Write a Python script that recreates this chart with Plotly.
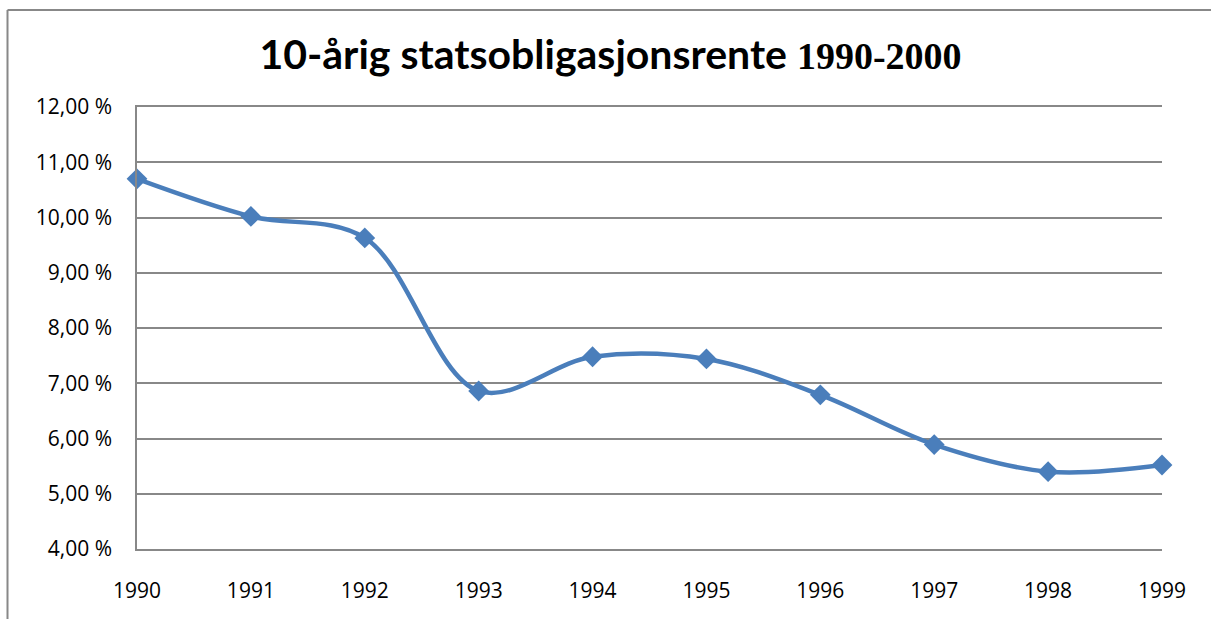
import plotly.graph_objects as go

years = [1990, 1991, 1992, 1993, 1994, 1995, 1996, 1997, 1998, 1999]
rente = [10.70, 10.02, 9.63, 6.86, 7.48, 7.44, 6.79, 5.89, 5.40, 5.52]
y_ticks = [4, 5, 6, 7, 8, 9, 10, 11, 12]
y_labels = ["4,00 %", "5,00 %", "6,00 %", "7,00 %", "8,00 %", "9,00 %", "10,00 %", "11,00 %", "12,00 %"]
x_labels = [str(y) for y in years]

W, H = 1211, 619
L, R, T, B = 137, 49, 107, 70
pw, ph = W - L - R, H - T - B

fig = go.Figure()
fig.add_trace(go.Scatter(
    x=years, y=rente, mode="lines+markers",
    line=dict(color="#4A7EBB", width=4.5, shape="spline", smoothing=1.0),
    marker=dict(symbol="diamond", size=16, color="#4A7EBB"),
    cliponaxis=False, showlegend=False,
))

def px_x(p):
    return (p - L) / pw

def px_y(p):
    return (H - B - p) / ph

gray = "#888888"
fig.add_shape(type="line", xref="paper", yref="paper",
              x0=px_x(7.5), x1=px_x(1212), y0=px_y(10), y1=px_y(10),
              line=dict(color=gray, width=2))
fig.add_shape(type="line", xref="paper", yref="paper",
              x0=px_x(7.5), x1=px_x(7.5), y0=px_y(10), y1=px_y(620),
              line=dict(color=gray, width=2))

fig.update_layout(
    width=W, height=H,
    margin=dict(l=L, r=R, t=T, b=B, autoexpand=False),
    paper_bgcolor="white", plot_bgcolor="white",
    font=dict(family="Open Sans, Liberation Sans, sans-serif", size=21, color="black"),
    title=dict(
        text='<b>10-årig statsobligasjonsrente </b><span style="font-family:\'Liberation Serif\',serif;font-size:38px;font-weight:bold">1990-2000</span>',
        x=(263 + 958) / 2 / W, xanchor="center", y=1 - 55 / H, yanchor="middle",
        font=dict(family="Lato, Open Sans, sans-serif", size=41, color="black"),
    ),
    xaxis=dict(
        range=[1990, 1999], tickvals=years, ticktext=x_labels,
        showgrid=False, zeroline=False, showline=True, mirror=True,
        linecolor=gray, linewidth=1.5, automargin=False,
        ticks="", ticklabelstandoff=22,
    ),
    yaxis=dict(
        range=[4, 12], tickvals=y_ticks, ticktext=y_labels,
        showgrid=True, gridcolor=gray, gridwidth=1.5,
        zeroline=False, showline=True, linecolor=gray, linewidth=1.5,
        automargin=False, ticks="", ticklabelstandoff=19,
    ),
)

fig.write_html("out.html", post_script="document.body.style.margin='0';",
               config={"displayModeBar": False})
